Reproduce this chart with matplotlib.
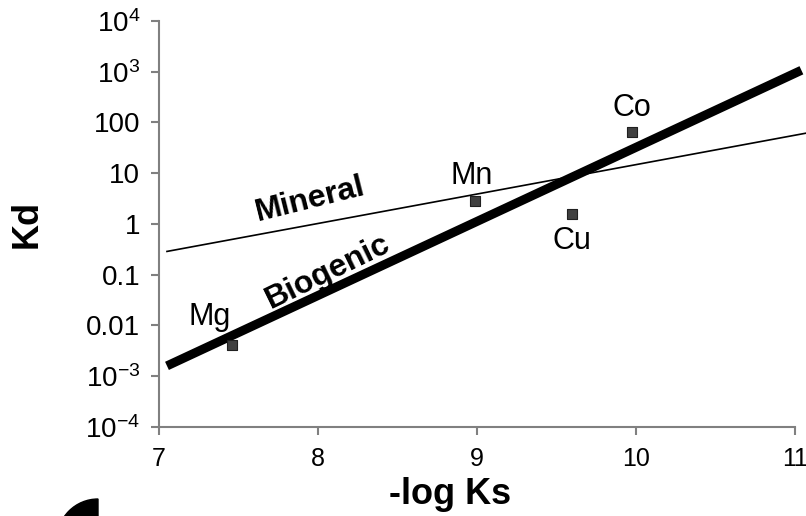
import matplotlib

matplotlib.use('Agg')
import matplotlib.pyplot as plt
from matplotlib.patches import Wedge

plt.rcParams['font.family'] = ['Liberation Sans', 'DejaVu Sans']
plt.rcParams['mathtext.fontset'] = 'custom'
plt.rcParams['mathtext.rm'] = 'Liberation Sans'
plt.rcParams['mathtext.default'] = 'regular'

# measured metals
elements = ['Mg', 'Mn', 'Cu', 'Co']
neg_log_ks = [7.46, 8.99, 9.595, 9.975]
kd = [0.0042, 2.9, 1.6, 65]

# fitted trend lines (end points)
biogenic_x = [7.05, 11.04]
biogenic_kd = [0.0016, 1070]
mineral_x = [7.05, 11.07]
mineral_kd = [0.288, 61.7]

x_ticks = [7, 8, 9, 10, 11]
y_ticks = [1e-4, 1e-3, 0.01, 0.1, 1, 10, 100, 1e3, 1e4]
y_labels = ['$10^{-4}$', '$10^{-3}$', '0.01', '0.1', '1', '10', '100', '$10^{3}$', '$10^{4}$']

# label offsets in points (dx, dy)
label_off = {'Mg': (-16, 20), 'Mn': (-2.5, 18), 'Cu': (0, -19.5), 'Co': (0, 17)}

fig = plt.figure(figsize=(8.06, 5.16), dpi=100)
ax = fig.add_axes([0.1973, 0.1725, 0.7891, 0.7868])

ax.plot(mineral_x, mineral_kd, color='black', lw=1.2, clip_on=False, zorder=2)
ax.plot(biogenic_x, biogenic_kd, color='black', lw=6.5, clip_on=False, zorder=3, solid_capstyle='butt')
ax.scatter(neg_log_ks, kd, marker='s', s=52, color='#404040', edgecolor='#202020', lw=0.8, zorder=4)

for el, x, y in zip(elements, neg_log_ks, kd):
    ax.annotate(el, (x, y), xytext=label_off[el], textcoords='offset points',
                ha='center', va='center', fontsize=22)

ax.text(7.95, 10 ** 0.47, 'Mineral', rotation=14, fontsize=23, fontweight='bold',
        ha='center', va='center')
ax.text(8.06, 10 ** -0.95, 'Biogenic', rotation=26, fontsize=23, fontweight='bold',
        ha='center', va='center')

ax.set_yscale('log')
ax.set_xlim(7, 11)
ax.set_ylim(1e-4, 1e4)
ax.set_xticks(x_ticks)
ax.set_xticklabels([str(t) for t in x_ticks])
ax.set_yticks(y_ticks)
ax.set_yticklabels(y_labels)
ax.minorticks_off()
ax.tick_params(length=5.5, width=1.5, color='#808080')
ax.tick_params(axis='x', labelsize=18, pad=9)
ax.tick_params(axis='y', labelsize=20, pad=8)
for s in ['top', 'right']:
    ax.spines[s].set_visible(False)
for s in ['left', 'bottom']:
    ax.spines[s].set_color('#808080')
    ax.spines[s].set_linewidth(1.5)

fig.text(450 / 806, 1 - 495 / 516, '-log Ks', fontsize=26, fontweight='bold',
         ha='center', va='center')
fig.text(27 / 806, 1 - 223.5 / 516, 'Kd', fontsize=26, fontweight='bold',
         ha='center', va='center', rotation=90)

# black blob in the lower left corner
fig.patches.append(Wedge((0.98, -0.24), 0.41, 90, 180, color='black',
                         transform=fig.dpi_scale_trans, figure=fig))

fig.savefig('out.png', dpi=100)
